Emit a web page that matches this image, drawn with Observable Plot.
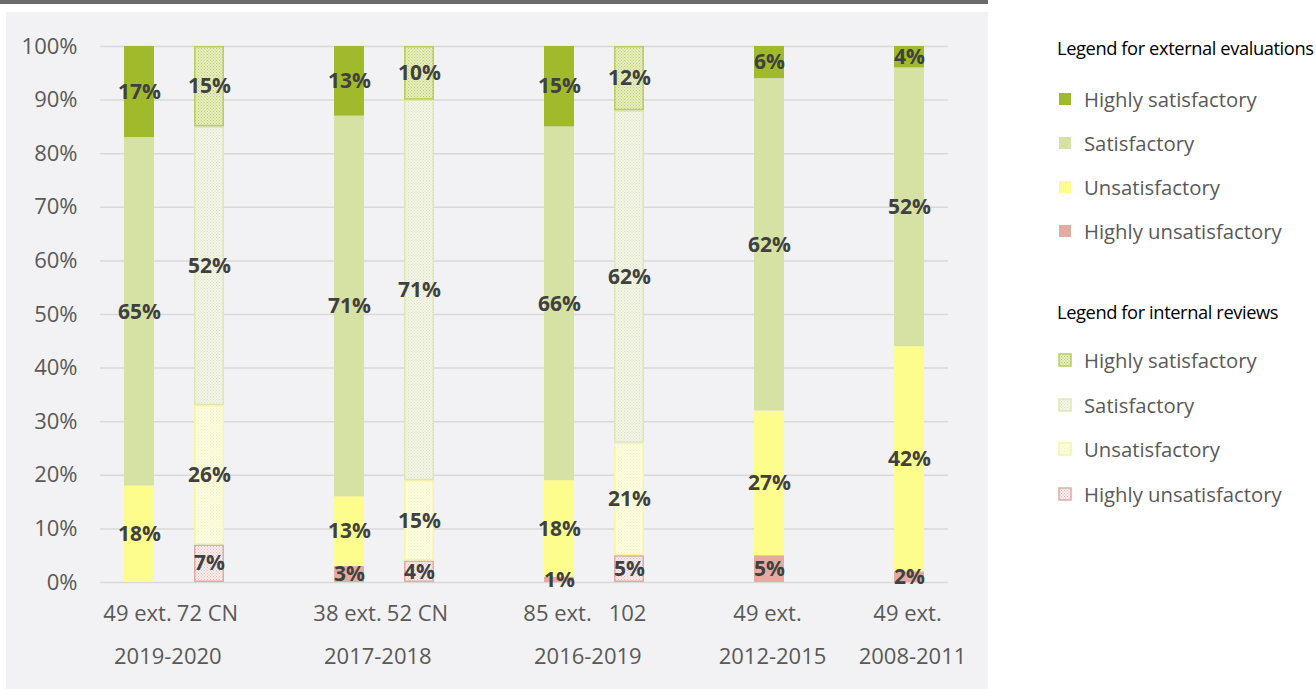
<!DOCTYPE html>
<html>
<head>
<meta charset="utf-8">
<script src="https://cdn.jsdelivr.net/npm/d3@7"></script>
<script src="https://cdn.jsdelivr.net/npm/@observablehq/plot@0.6"></script>
<style>
  body { margin: 0; background: #ffffff; font-family: "Open Sans", sans-serif; }
  #wrap { position: relative; width: 1316px; height: 689px; overflow: hidden; background: #fff; }
  #topbar { position: absolute; left: 0; top: 0; width: 988px; height: 4px; background: #6b6b6b; }
  #panel { position: absolute; left: 6px; top: 12px; width: 982px; height: 677px; background: #f2f2f4; }
  .lg-title { position: absolute; left: 1057px; font-size: 18.3px; color: #000; white-space: nowrap; letter-spacing: -0.4px; transform: translateY(-50%); }
  .lg-item { position: absolute; left: 1058px; font-size: 20.3px; color: #595959; white-space: nowrap; transform: translateY(-50%); display: flex; align-items: center; }
  .lg-item svg { margin-right: 12px; }
</style>
</head>
<body>
<svg width="0" height="0" style="position:absolute">
  <defs>
    <pattern id="p-hs" width="3" height="3" patternUnits="userSpaceOnUse">
      <rect width="3" height="3" fill="#e8eec0"/>
      <rect x="0" y="0" width="1" height="1" fill="#b8cc6c"/>
      <rect x="1.5" y="1.5" width="1" height="1" fill="#b8cc6c"/>
    </pattern>
    <pattern id="p-s" width="3" height="3" patternUnits="userSpaceOnUse">
      <rect width="3" height="3" fill="#f5f6ea"/>
      <rect x="0" y="0" width="1" height="1" fill="#d9e0bc"/>
      <rect x="1.5" y="1.5" width="1" height="1" fill="#d9e0bc"/>
    </pattern>
    <pattern id="p-u" width="3" height="3" patternUnits="userSpaceOnUse">
      <rect width="3" height="3" fill="#fdfde2"/>
      <rect x="0" y="0" width="1" height="1" fill="#f1f1c0"/>
      <rect x="1.5" y="1.5" width="1" height="1" fill="#f1f1c0"/>
    </pattern>
    <pattern id="p-hu" width="3" height="3" patternUnits="userSpaceOnUse">
      <rect width="3" height="3" fill="#f7eded"/>
      <rect x="0" y="0" width="1" height="1" fill="#d8bfbf"/>
      <rect x="1.5" y="1.5" width="1" height="1" fill="#d8bfbf"/>
    </pattern>
  </defs>
</svg>
<div id="wrap">
  <div id="topbar"></div>
  <div id="panel"></div>
</div>
<script>
// ---- data ----
const slots = ["e2019", "c2019", "gap1", "e2017", "c2017", "gap2", "e2016", "c2016", "gap3", "e2012", "gap4", "e2008"];
const barKeys = ["e2019", "c2019", "e2017", "c2017", "e2016", "c2016", "e2012", "e2008"];
const barLabels = ["49 ext.", "72 CN", "38 ext.", "52 CN", "85 ext.", "102", "49 ext.", "49 ext."];
const barTypes = ["ext", "int", "ext", "int", "ext", "int", "ext", "ext"];
const periods = ["2019-2020", "2017-2018", "2016-2019", "2012-2015", "2008-2011"];
const periodFirstBar = ["e2019", "e2017", "e2016", "e2012", "e2008"];
const periodBarCount = [2, 2, 2, 1, 1];
const ratings = ["Highly unsatisfactory", "Unsatisfactory", "Satisfactory", "Highly satisfactory"];
const highlyUnsatisfactory = [0, 7, 3, 4, 1, 5, 5, 2];
const unsatisfactory = [18, 26, 13, 15, 18, 21, 27, 42];
const satisfactory = [65, 52, 71, 71, 66, 62, 62, 52];
const highlySatisfactory = [17, 15, 13, 10, 15, 12, 6, 4];
const yTicks = [0, 10, 20, 30, 40, 50, 60, 70, 80, 90, 100];

// ---- styles ----
const extFill = {
  "Highly unsatisfactory": "#e4aba1",
  "Unsatisfactory": "#fdfd8e",
  "Satisfactory": "#d6e2a4",
  "Highly satisfactory": "#a0ba2c"
};
const intFill = {
  "Highly unsatisfactory": "url(#p-hu)",
  "Unsatisfactory": "url(#p-u)",
  "Satisfactory": "url(#p-s)",
  "Highly satisfactory": "url(#p-hs)"
};
const intStroke = {
  "Highly unsatisfactory": "#e2aaa4",
  "Unsatisfactory": "#f6f6a6",
  "Satisfactory": "#dfe7b4",
  "Highly satisfactory": "#b9cf5c"
};

const valueSeries = [highlyUnsatisfactory, unsatisfactory, satisfactory, highlySatisfactory];
const rows = [];
barKeys.forEach((bar, i) => {
  ratings.forEach((rating, r) => {
    rows.push({bar, type: barTypes[i], rating, value: valueSeries[r][i]});
  });
});
const extRows = rows.filter(d => d.type === "ext");
const intRows = rows.filter(d => d.type === "int");

const W = 982, H = 677, ML = 94, MR = 40, MT = 34, MB = 107;
const step = (W - ML - MR) / slots.length;
const pi = 0.575;

const pairs = periods.map((p, i) => ({p, first: periodFirstBar[i], n: periodBarCount[i]}));

const chart = Plot.plot({
  width: W,
  height: H,
  marginLeft: ML,
  marginRight: MR,
  marginTop: MT,
  marginBottom: MB,
  style: {background: "transparent", fontFamily: "Open Sans, sans-serif", overflow: "visible"},
  x: {type: "band", domain: slots, paddingInner: pi, paddingOuter: pi / 2, axis: null},
  y: {domain: [0, 100], axis: null},
  color: {type: "identity"},
  marks: [
    Plot.gridY(yTicks, {stroke: "#d9d9d9", strokeOpacity: 1, strokeWidth: 1.5}),
    Plot.axisY(yTicks, {tickSize: 0, tickPadding: 23, tickFormat: d => d + "%", fontSize: 22, fill: "#595959", label: null}),
    Plot.axisX(barKeys, {tickSize: 0, tickPadding: 23, tickFormat: k => barLabels[barKeys.indexOf(k)], fontSize: 22, fill: "#595959", label: null, dx: -2}),
    Plot.barY(extRows, Plot.stackY({x: "bar", y: "value", fill: d => extFill[d.rating]})),
    Plot.barY(intRows, Plot.stackY({x: "bar", y: "value", fill: d => intFill[d.rating], stroke: d => intStroke[d.rating], strokeWidth: 1.5, inset: 0.75})),
    Plot.text(rows.filter(d => d.value > 0), Plot.stackY({
      x: "bar", y: "value", text: d => d.value + "%",
      fontSize: 21, fontWeight: "bold", fill: "#404040"
    })),
    Plot.text(pairs.filter(d => d.n === 2), {x: "first", text: "p", frameAnchor: "bottom", dy: 81, dx: step / 2 - 7, fontSize: 22, fill: "#595959"}),
    Plot.text(pairs.filter(d => d.n === 1), {x: "first", text: "p", frameAnchor: "bottom", dy: 81, dx: 3, fontSize: 22, fill: "#595959"})
  ]
});
document.getElementById("panel").appendChild(chart);

// ---- legends ----
const wrap = document.getElementById("wrap");
function addTitle(text, y) {
  const d = document.createElement("div");
  d.className = "lg-title";
  d.style.top = y + "px";
  d.textContent = text;
  wrap.appendChild(d);
}
function addItem(label, fill, stroke, y) {
  const d = document.createElement("div");
  d.className = "lg-item";
  d.style.top = y + "px";
  d.innerHTML = `<svg width="14" height="14"><rect x="1" y="1" width="12" height="12" fill="${fill}" stroke="${stroke}" stroke-width="${stroke === "none" ? 0 : 1.5}"/></svg><span>${label}</span>`;
  wrap.appendChild(d);
}
const legendOrder = ["Highly satisfactory", "Satisfactory", "Unsatisfactory", "Highly unsatisfactory"];
addTitle("Legend for external evaluations", 47);
legendOrder.forEach((r, i) => addItem(r, extFill[r], "none", 99 + i * 44));
addTitle("Legend for internal reviews", 311);
legendOrder.forEach((r, i) => addItem(r, intFill[r], intStroke[r], 360 + i * 44.7));
</script>
</body>
</html>
